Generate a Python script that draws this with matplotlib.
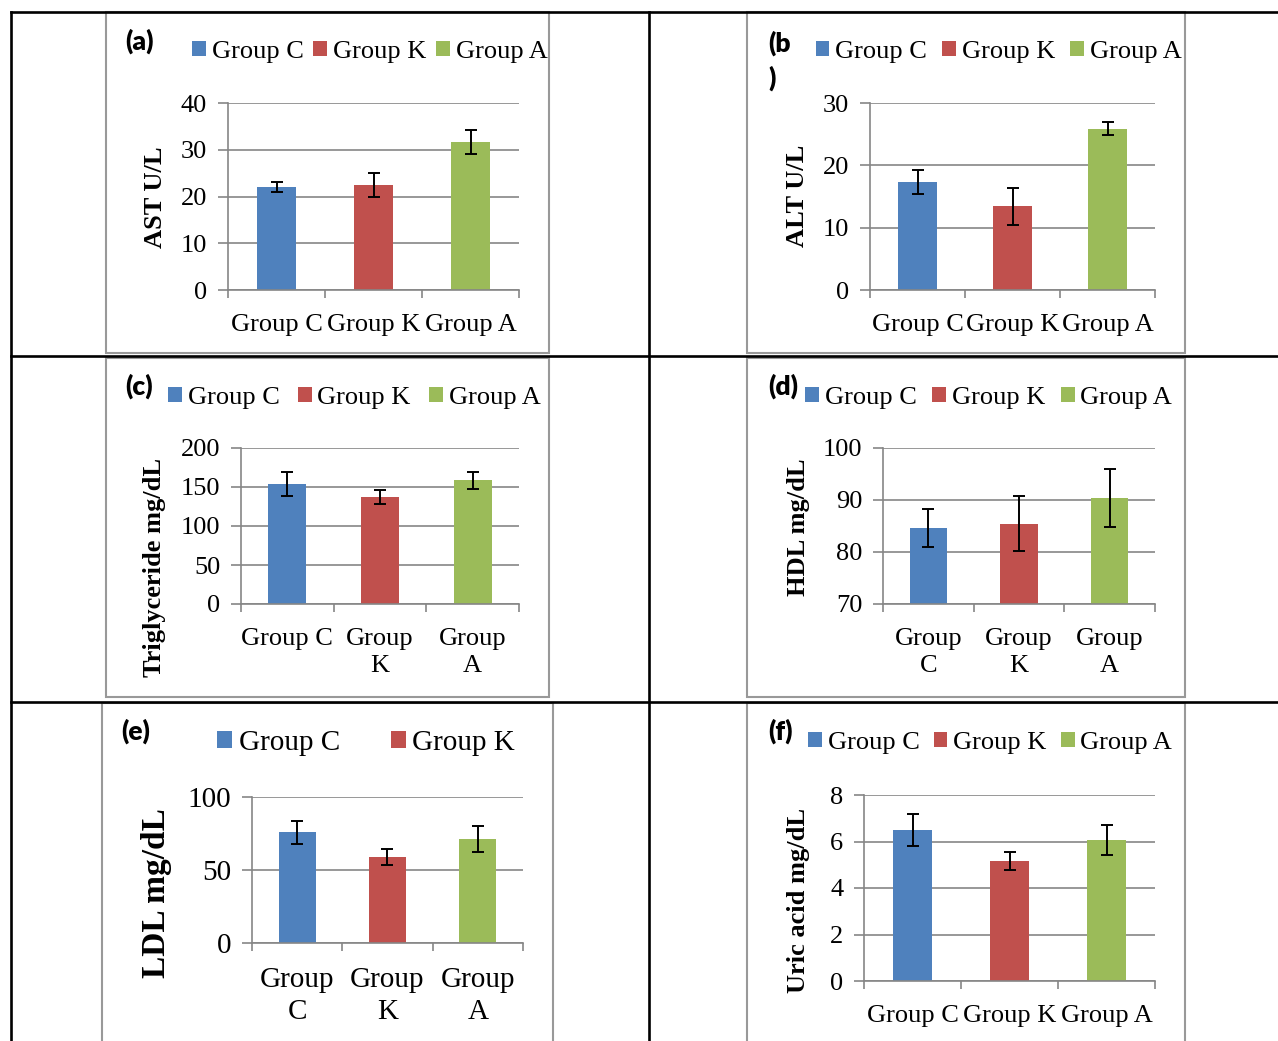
"""Six serum-chemistry bar charts laid out in a bordered table grid (panels a-f)."""

import matplotlib.pyplot as plt
from matplotlib.lines import Line2D
from matplotlib.patches import Rectangle

W, H = 1278, 1041

GROUPS = ["Group C", "Group K", "Group A"]
COLORS = ["#4F81BD", "#C0504D", "#9BBB59"]

AST_MEAN = [22.0, 22.4, 31.6]
AST_ERR = [1.1, 2.6, 2.6]
ALT_MEAN = [17.3, 13.4, 25.9]
ALT_ERR = [1.9, 2.9, 1.0]
TG_MEAN = [153.6, 137.0, 158.7]
TG_ERR = [15.5, 9.0, 10.8]
HDL_MEAN = [84.6, 85.4, 90.4]
HDL_ERR = [3.7, 5.3, 5.6]
LDL_MEAN = [76.0, 58.8, 71.2]
LDL_ERR = [7.9, 5.6, 9.0]
URIC_MEAN = [6.49, 5.16, 6.06]
URIC_ERR = [0.70, 0.38, 0.63]

LABELS_ONE_LINE = ["Group C", "Group K", "Group A"]
LABELS_C_WRAP = ["Group C", "Group\nK", "Group\nA"]
LABELS_WRAP = ["Group\nC", "Group\nK", "Group\nA"]

SERIF = "Liberation Serif"
TAG_FONT = "Lato"
AXIS_GRAY = "#868686"


def fx(px):
    return px / W


def fy(py):
    return 1 - py / H


# Layout in reference pixels: axes box (left, top, right, bottom), frame box,
# legend anchor (x of first swatch, y centre), panel-letter position, y-label centre.
PANELS = [
    dict(tag="(a)", mean=AST_MEAN, err=AST_ERR, ylabel="AST U/L", yticks=[0, 10, 20, 30, 40],
         xlabels=LABELS_ONE_LINE, axes=(228, 103, 519, 290), frame=(106, 12, 549, 353),
         legend=(192, 52), colsp=0.38, nleg=3, tagpos=(125, 41), ylab=(155, 197),
         fs=19, yfs=19),
    dict(tag="(b\n)", mean=ALT_MEAN, err=ALT_ERR, ylabel="ALT U/L", yticks=[0, 10, 20, 30],
         xlabels=LABELS_ONE_LINE, axes=(870, 103, 1155, 290), frame=(747.5, 12, 1185, 353),
         legend=(815.5, 52), colsp=0.58, nleg=3, tagpos=(768, 42), ylab=(798, 196),
         fs=19, yfs=19),
    dict(tag="(c)", mean=TG_MEAN, err=TG_ERR, ylabel="Triglyceride mg/dL",
         yticks=[0, 50, 100, 150, 200], xlabels=LABELS_C_WRAP, axes=(241, 448, 519, 604),
         frame=(106, 358.5, 549, 697), legend=(168, 398), colsp=0.7, nleg=3,
         tagpos=(125, 386), ylab=(155, 567), fs=19, yfs=19),
    dict(tag="(d)", mean=HDL_MEAN, err=HDL_ERR, ylabel="HDL mg/dL", yticks=[70, 80, 90, 100],
         xlabels=LABELS_WRAP, axes=(883, 448, 1155, 604), frame=(747.5, 358.5, 1185, 697),
         legend=(805, 398), colsp=0.6, nleg=3, tagpos=(768, 386), ylab=(798, 527),
         fs=19, yfs=19),
    dict(tag="(e)", mean=LDL_MEAN, err=LDL_ERR, ylabel="LDL mg/dL", yticks=[0, 50, 100],
         xlabels=LABELS_WRAP, axes=(252, 797, 523, 943), frame=(102, 703, 553, 1050),
         legend=(217, 743), colsp=1.75, nleg=2, tagpos=(121, 731), ylab=(157, 893),
         fs=21, yfs=24),
    dict(tag="(f)", mean=URIC_MEAN, err=URIC_ERR, ylabel="Uric acid mg/dL",
         yticks=[0, 2, 4, 6, 8], xlabels=LABELS_ONE_LINE, axes=(864, 795, 1155, 981),
         frame=(747.5, 703, 1185, 1050), legend=(808, 743), colsp=0.54, nleg=3,
         tagpos=(768, 731), ylab=(798, 900), fs=19, yfs=19),
]


def draw_panel(fig, p):
    left, top, right, bottom = p["axes"]
    ax = fig.add_axes([fx(left), fy(bottom), fx(right) - fx(left), fy(top) - fy(bottom)])
    ax.set_facecolor("none")

    containers = []
    for i, (name, color) in enumerate(zip(GROUPS, COLORS)):
        bc = ax.bar(i, p["mean"][i], width=0.41, color=color, label=name, zorder=2)
        containers.append(bc)
    ax.errorbar(range(3), p["mean"], yerr=p["err"], fmt="none", ecolor="black",
                elinewidth=1.4, capsize=4.5, capthick=1.4, zorder=3)

    ax.set_xlim(-0.5, 2.5)
    ax.set_ylim(p["yticks"][0], p["yticks"][-1])
    ax.set_yticks(p["yticks"])
    ax.yaxis.grid(True, color=AXIS_GRAY, linewidth=1.2, zorder=0)
    ax.set_axisbelow(True)

    for side in ("top", "right"):
        ax.spines[side].set_visible(False)
    for side in ("left", "bottom"):
        ax.spines[side].set_color(AXIS_GRAY)
        ax.spines[side].set_linewidth(1.2)

    fs = p["fs"]
    ax.set_xticks(range(3))
    ax.set_xticklabels(p["xlabels"], fontfamily=SERIF, fontsize=fs)
    for lab in ax.get_xticklabels():
        lab.set_linespacing(1.32)
    ax.set_xticks([-0.5, 0.5, 1.5, 2.5], minor=True)
    ax.tick_params(axis="x", which="major", length=0, pad=17)
    ax.tick_params(axis="x", which="minor", length=6, width=1.2, color=AXIS_GRAY)
    ax.tick_params(axis="y", length=7, width=1.2, color=AXIS_GRAY, pad=8)
    for lab in ax.get_yticklabels():
        lab.set_fontfamily(SERIF)
        lab.set_fontsize(fs)

    lx, ly = p["legend"]
    n = p["nleg"]
    ax.legend(handles=containers[:n], labels=GROUPS[:n], loc="center left",
              bbox_to_anchor=(fx(lx), fy(ly)), bbox_transform=fig.transFigure,
              ncol=n, frameon=False, borderpad=0, borderaxespad=0,
              handlelength=0.52, handleheight=0.52, handletextpad=0.22,
              columnspacing=p["colsp"], prop={"family": SERIF, "size": fs})

    tx, ty = p["tagpos"]
    if "\n" in p["tag"]:
        fig.text(fx(tx), fy(30), p["tag"], ha="left", va="top", fontfamily=TAG_FONT,
                 fontweight="heavy", fontsize=19, linespacing=1.45)
    else:
        fig.text(fx(tx), fy(ty), p["tag"], ha="left", va="center", fontfamily=TAG_FONT,
                 fontweight="heavy", fontsize=19)

    yx, yy = p["ylab"]
    fig.text(fx(yx), fy(yy), p["ylabel"], rotation=90, ha="center", va="center",
             fontfamily=SERIF, fontweight="bold", fontsize=p["yfs"])


def draw_table(fig):
    black = dict(color="black", linewidth=1.9, transform=fig.transFigure)
    fig.add_artist(Line2D([fx(11), 1], [fy(12), fy(12)], **black))
    fig.add_artist(Line2D([fx(11), 1], [fy(356), fy(356)], **black))
    fig.add_artist(Line2D([fx(11), 1], [fy(702), fy(702)], **black))
    fig.add_artist(Line2D([fx(11), fx(11)], [fy(12), 0], **black))
    fig.add_artist(Line2D([fx(649), fx(649)], [fy(12), 0], **black))

    for p in PANELS:
        x0, y0, x1, y1 = p["frame"]
        fig.add_artist(Rectangle((fx(x0), fy(y1)), fx(x1) - fx(x0), fy(y0) - fy(y1),
                                 transform=fig.transFigure, fill=False,
                                 edgecolor="#999999", linewidth=1.5, zorder=0))


def main():
    fig = plt.figure(figsize=(W / 100, H / 100), dpi=100)
    fig.patch.set_facecolor("white")
    draw_table(fig)
    for p in PANELS:
        draw_panel(fig, p)
    fig.savefig("out.png", dpi=100)


if __name__ == "__main__":
    main()
